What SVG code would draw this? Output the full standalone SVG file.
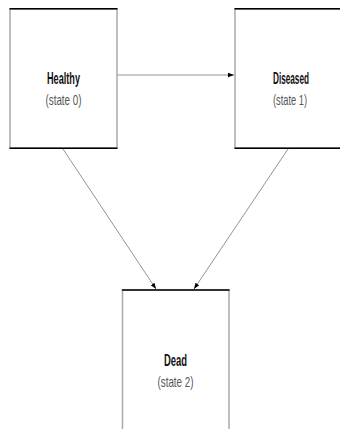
<svg xmlns="http://www.w3.org/2000/svg" width="340" height="429" viewBox="0 0 340 429">
<style>
.box{fill:#fff;stroke:#aaa;stroke-width:1.5}
.edge{stroke:#000;stroke-width:1.5}
.conn{stroke:#777;stroke-width:0.8;fill:none}
.t{font-family:"Liberation Sans",Arial,sans-serif;font-size:16px;fill:#111;text-anchor:middle}
.b{font-weight:bold}
.s{fill:#555;font-size:15px}
</style>
<defs>
<marker id="ah" viewBox="0 0 8 8" refX="8" refY="4" markerWidth="6" markerHeight="6" orient="auto" markerUnits="userSpaceOnUse">
<path d="M0,1 L8,4 L0,7 Z" fill="#000"/>
</marker>
</defs>
<g id="connectors">
<line class="conn" x1="117" y1="75" x2="234" y2="75" marker-end="url(#ah)"/>
<line class="conn" x1="63" y1="149" x2="156" y2="289" marker-end="url(#ah)"/>
<line class="conn" x1="288" y1="149" x2="194" y2="289" marker-end="url(#ah)"/>
</g>
<g id="healthy">
<rect class="box" x="10" y="9" width="107" height="139"/>
<line class="edge" x1="9.5" y1="8.7" x2="117.5" y2="8.7"/>
<line class="edge" x1="9.5" y1="148.3" x2="117.5" y2="148.3"/>
<text class="t b" x="63.5" y="84" textLength="33" lengthAdjust="spacingAndGlyphs">Healthy</text>
<text class="t s" x="63.5" y="105" textLength="36" lengthAdjust="spacingAndGlyphs">(state 0)</text>
</g>
<g id="diseased">
<rect class="box" x="235" y="9" width="106" height="139"/>
<line class="edge" x1="234.5" y1="8.7" x2="340" y2="8.7"/>
<line class="edge" x1="234.5" y1="148.3" x2="340" y2="148.3"/>
<text class="t b" x="291" y="84" textLength="36" lengthAdjust="spacingAndGlyphs">Diseased</text>
<text class="t s" x="290" y="105" textLength="34" lengthAdjust="spacingAndGlyphs">(state 1)</text>
</g>
<g id="dead">
<rect class="box" x="122.5" y="290" width="106.5" height="160"/>
<line class="edge" x1="122" y1="290" x2="229.5" y2="290"/>
<text class="t b" x="175.5" y="366" textLength="23" lengthAdjust="spacingAndGlyphs">Dead</text>
<text class="t s" x="175.5" y="387" textLength="36" lengthAdjust="spacingAndGlyphs">(state 2)</text>
</g>
</svg>
